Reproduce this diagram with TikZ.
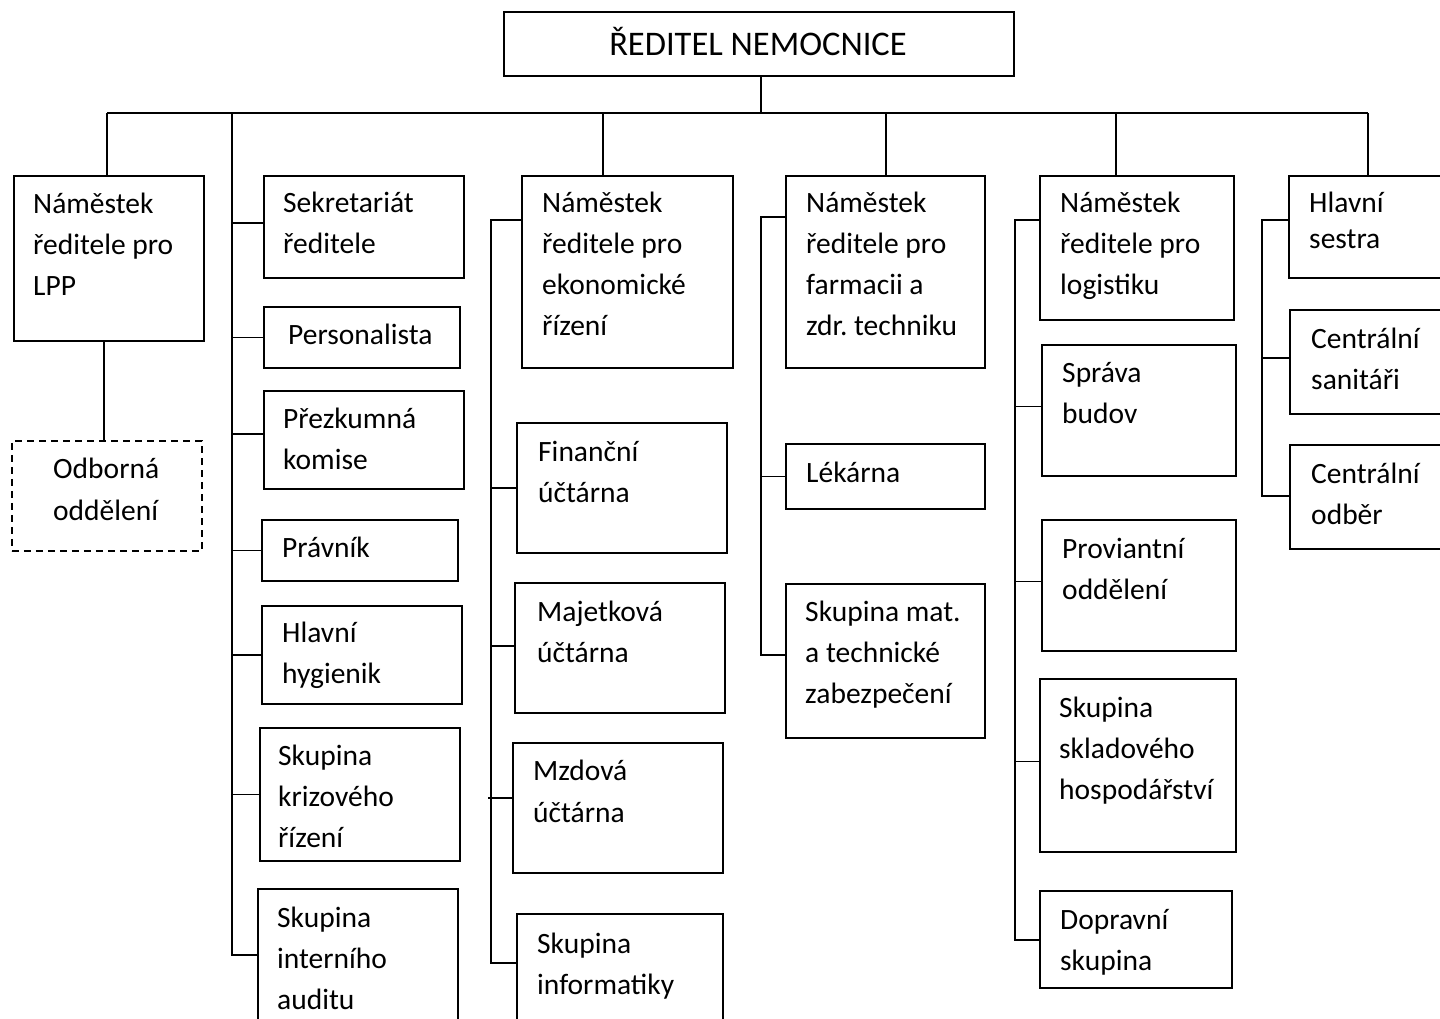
\documentclass[tikz,border=0pt]{standalone}
\usepackage{fontspec}
\setmainfont{Carlito}
\tikzset{
  bx/.style={draw, line width=1.9pt, inner sep=0pt},
  dbx/.style={bx, line width=1.5pt, dash pattern=on 7pt off 5pt},
  txt/.style={inner sep=0pt, text width=230pt, align=flush left, anchor=base west,
              font=\fontsize{29.5}{41}\selectfont},
  conn/.style={line width=1.8pt}
}
\newcommand\orgbox[6][bx]{\node[#1,minimum width={#5-#3},minimum height={#6-#4},anchor=north west] (#2) at (#3,#4) {};}
\begin{document}
\begin{tikzpicture}[x=1pt,y=-1pt]
\path[use as bounding box] (0,0) rectangle (1440,1018);
\clip (0,0) rectangle (1440,1018);
\fill[white] (0,0) rectangle (1440,1018);

% boxes
\orgbox{dir}{503}{11}{1013}{75}
\orgbox{lpp}{13}{175}{203}{340}
\orgbox[dbx]{odb}{11}{440}{201}{550}
\orgbox{sek}{263}{175}{463}{277}
\orgbox{per}{263}{306}{459}{367}
\orgbox{pre}{263}{390}{463}{488}
\orgbox{pra}{261}{519}{457}{580}
\orgbox{hyg}{261}{605}{461}{703}
\orgbox{kri}{259}{727}{459}{860}
\orgbox{aud}{257}{888}{457}{1030}
\orgbox{eco}{521}{175}{732}{367}
\orgbox{fin}{516}{422}{726}{552}
\orgbox{maj}{514}{582}{724}{712}
\orgbox{mzd}{512}{742}{722}{872}
\orgbox{inf}{516}{913}{722}{1030}
\orgbox{farm}{785}{175}{984}{367}
\orgbox{lek}{785}{443}{984}{508}
\orgbox{skm}{785}{583}{984}{737}
\orgbox{log}{1039}{175}{1233}{319}
\orgbox{spr}{1041}{344}{1235}{475}
\orgbox{pro}{1041}{519}{1235}{650}
\orgbox{skl}{1039}{678}{1235}{851}
\orgbox{dop}{1039}{890}{1231}{987}
\orgbox{ses}{1288}{175}{1450}{277}
\orgbox{san}{1289}{309}{1450}{413}
\orgbox{cod}{1289}{444}{1450}{548}

% texts
\node[inner sep=0pt, anchor=base, font=\fontsize{34.5}{40}\selectfont] (dir-t) at (758,55) {ŘEDITEL NEMOCNICE};
\node[txt] (lpp-t) at (33,213) {Náměstek\\ředitele pro\\LPP};
\node[txt] (odb-t) at (53,478) {Odborná\\[1pt]oddělení};
\node[txt] (sek-t) at (283,212) {Sekretariát\\ředitele};
\node[txt] (per-t) at (288,344) {Personalista};
\node[txt] (pre-t) at (283,428) {Přezkumná\\komise};
\node[txt] (pra-t) at (282,557) {Právník};
\node[txt] (hyg-t) at (282,642) {Hlavní\\hygienik};
\node[txt] (kri-t) at (278,765) {Skupina\\krizového\\řízení};
\node[txt] (aud-t) at (277,927) {Skupina\\interního\\auditu};
\node[txt] (eco-t) at (542,212) {Náměstek\\ředitele pro\\ekonomické\\řízení};
\node[txt] (fin-t) at (538,461) {Finanční\\účtárna};
\node[txt] (maj-t) at (537,621) {Majetková\\účtárna};
\node[txt] (mzd-t) at (533,780) {Mzdová\\[1pt]účtárna};
\node[txt] (inf-t) at (537,953) {Skupina\\informatiky};
\node[txt] (farm-t) at (806,212) {Náměstek\\ředitele pro\\farmacii a\\zdr.\ techniku};
\node[txt] (lek-t) at (806,482) {Lékárna};
\node[txt] (skm-t) at (805,621) {Skupina mat.\\a technické\\zabezpečení};
\node[txt] (log-t) at (1060,212) {Náměstek\\ředitele pro\\logistiku};
\node[txt] (spr-t) at (1062,382) {Správa\\budov};
\node[txt] (pro-t) at (1062,558) {Proviantní\\oddělení};
\node[txt] (skl-t) at (1059,717) {Skupina\\skladového\\hospodářství};
\node[txt] (dop-t) at (1060,929) {Dopravní\\skupina};
\node[txt] (ses-t) at (1309,212) {Hlavní\\[-5pt]sestra};
\node[txt] (san-t) at (1311,348) {Centrální\\sanitáři};
\node[txt] (cod-t) at (1311,483) {Centrální\\odběr};

% connector coordinates
\coordinate (bus) at (761,113);
\coordinate (busL) at (107,113);
\coordinate (busR) at (1368,113);
\coordinate (s2t) at (232,113);
\coordinate (s2b) at (232,955);
\coordinate (d3) at (603,113);
\coordinate (s3t) at (491,220);
\coordinate (s3b) at (491,963);
\coordinate (d4) at (886,113);
\coordinate (s4t) at (761,217);
\coordinate (s4b) at (761,655);
\coordinate (d5) at (1116,113);
\coordinate (s5t) at (1015,220);
\coordinate (s5b) at (1015,940);
\coordinate (s6t) at (1262,220);
\coordinate (s6b) at (1262,496);

% top
\draw[conn] (dir.south -| bus) -- (bus);
\draw[conn] (busL) -- (busR);
\draw[conn] (busL) -- (busL |- lpp.north);
\draw[conn] ([xshift=-5pt]lpp.south) -- ([xshift=-5pt]lpp.south |- odb.north);

% column 2
\draw[conn] (s2t) -- (s2b) -- (s2b -| aud.west);
\draw[conn] ([yshift=4pt]sek.west) -- ([yshift=4pt]sek.west -| s2t);
\draw[conn] (per.west) -- (per.west -| s2t);
\draw[conn] ([yshift=6pt]pre.west) -- ([yshift=6pt]pre.west -| s2t);
\draw[conn] (pra.west) -- (pra.west -| s2t);
\draw[conn] (hyg.west) -- (hyg.west -| s2t);
\draw[conn] (kri.west) -- (kri.west -| s2t);

% column 3
\draw[conn] (d3) -- (d3 |- eco.north);
\draw[conn] (eco.west |- s3t) -- (s3t) -- (s3b) -- (s3b -| inf.west);
\draw[conn] (fin.west) -- (fin.west -| s3t);
\draw[conn] ([yshift=2pt]maj.west) -- ([yshift=2pt]maj.west -| s3t);
\draw[conn, shorten >=-3pt] ([yshift=10pt]mzd.west) -- ([yshift=10pt]mzd.west -| s3t);

% column 4
\draw[conn] (d4) -- (d4 |- farm.north);
\draw[conn] (farm.west |- s4t) -- (s4t) -- (s4b) -- (s4b -| skm.west);
\draw[conn] (lek.west) -- (lek.west -| s4t);

% column 5
\draw[conn] (d5) -- (d5 |- log.north);
\draw[conn] (log.west |- s5t) -- (s5t) -- (s5b) -- (s5b -| dop.west);
\draw[conn] ([yshift=4pt]spr.west) -- ([yshift=4pt]spr.west -| s5t);
\draw[conn] ([yshift=4pt]pro.west) -- ([yshift=4pt]pro.west -| s5t);
\draw[conn] ([yshift=4pt]skl.west) -- ([yshift=4pt]skl.west -| s5t);

% column 6
\draw[conn] (busR) -- (busR |- ses.north);
\draw[conn] (ses.west |- s6t) -- (s6t) -- (s6b) -- (s6b -| cod.west);
\draw[conn] ([yshift=4pt]san.west) -- ([yshift=4pt]san.west -| s6t);
\end{tikzpicture}
\end{document}
